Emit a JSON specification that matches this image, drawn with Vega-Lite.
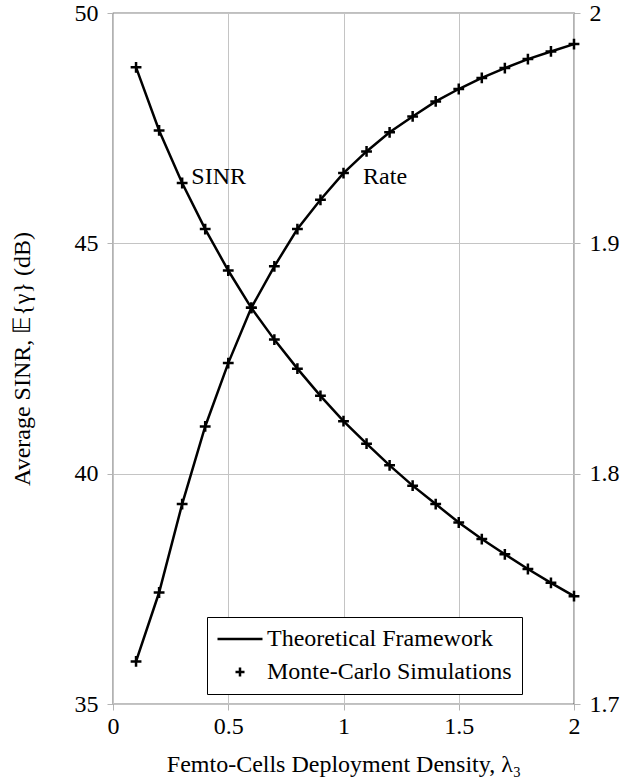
{
  "$schema": "https://vega.github.io/schema/vega-lite/v6.json",
  "width": 461,
  "height": 691,
  "autosize": {"type": "none"},
  "padding": {"left": 113, "top": 13, "right": 49, "bottom": 77},
  "background": "white",
  "config": {
    "font": "Times New Roman, Times, Liberation Serif, serif",
    "view": {"stroke": "black", "strokeWidth": 1.2},
    "axis": {
      "domain": false,
      "labelFont": "Times New Roman, Times, Liberation Serif, serif",
      "labelFontSize": 24,
      "labelColor": "black",
      "titleFont": "Times New Roman, Times, Liberation Serif, serif",
      "titleFontSize": 24,
      "titleFontWeight": "normal",
      "titleColor": "black",
      "gridColor": "#c4c4c4",
      "gridWidth": 1,
      "tickColor": "#b4b4b4",
      "tickSize": 6,
      "labelFlush": false,
      "labelOverlap": false
    },
    "legend": {
      "labelFont": "Times New Roman, Times, Liberation Serif, serif",
      "labelFontSize": 24,
      "labelColor": "black",
      "labelLimit": 0
    },
    "text": {"font": "Times New Roman, Times, Liberation Serif, serif"}
  },
  "data": {
    "values": [
      {"lambda": 0.1, "sinr": 48.82, "rate": 1.7185},
      {"lambda": 0.2, "sinr": 47.45, "rate": 1.7484},
      {"lambda": 0.3, "sinr": 46.31, "rate": 1.7868},
      {"lambda": 0.4, "sinr": 45.31, "rate": 1.8205},
      {"lambda": 0.5, "sinr": 44.41, "rate": 1.848},
      {"lambda": 0.6, "sinr": 43.6, "rate": 1.872},
      {"lambda": 0.7, "sinr": 42.91, "rate": 1.89},
      {"lambda": 0.8, "sinr": 42.28, "rate": 1.9062},
      {"lambda": 0.9, "sinr": 41.69, "rate": 1.9189},
      {"lambda": 1.0, "sinr": 41.14, "rate": 1.9305},
      {"lambda": 1.1, "sinr": 40.65, "rate": 1.9399},
      {"lambda": 1.2, "sinr": 40.18, "rate": 1.9482},
      {"lambda": 1.3, "sinr": 39.74, "rate": 1.9551},
      {"lambda": 1.4, "sinr": 39.34, "rate": 1.9616},
      {"lambda": 1.5, "sinr": 38.94, "rate": 1.967},
      {"lambda": 1.6, "sinr": 38.58, "rate": 1.9718},
      {"lambda": 1.7, "sinr": 38.25, "rate": 1.9761},
      {"lambda": 1.8, "sinr": 37.93, "rate": 1.98},
      {"lambda": 1.9, "sinr": 37.63, "rate": 1.9833},
      {"lambda": 2.0, "sinr": 37.34, "rate": 1.9865}
    ]
  },
  "encoding": {
    "x": {
      "field": "lambda",
      "type": "quantitative",
      "scale": {"domain": [0, 2], "nice": false, "zero": false},
      "axis": {
        "values": [0, 0.5, 1, 1.5, 2],
        "format": "~g",
        "grid": true,
        "labelPadding": 4,
        "title": "Femto-Cells Deployment Density, λ₃",
        "titleX": 230.5,
        "titleY": 60,
        "titleBaseline": "middle",
        "titleAlign": "center"
      }
    }
  },
  "layer": [
    {
      "encoding": {
        "y": {
          "field": "sinr",
          "type": "quantitative",
          "scale": {"domain": [35, 50], "nice": false, "zero": false},
          "axis": {
            "orient": "left",
            "values": [35, 40, 45, 50],
            "grid": true,
            "labelPadding": 9,
            "title": "Average SINR, 𝔼{γ} (dB)",
            "titleAngle": -90,
            "titleX": -91,
            "titleY": 345.5,
            "titleAlign": "center",
            "titleBaseline": "middle"
          }
        }
      },
      "layer": [
        {
          "mark": {"type": "line", "color": "black", "strokeWidth": 2.5}
        },
        {
          "mark": {
            "type": "point",
            "filled": false,
            "stroke": "black",
            "strokeWidth": 2.5,
            "size": 100,
            "opacity": 1,
            "shape": "M-1.08,0L1.08,0M0,-1.08L0,1.08"
          }
        },
        {
          "description": "Legend carrier: theory line and simulation cross as shape symbols",
          "mark": {
            "type": "point",
            "filled": false,
            "stroke": "black",
            "strokeWidth": 2.5,
            "size": 100,
            "opacity": 0
          },
          "encoding": {
            "shape": {
              "datum": "Monte-Carlo Simulations",
              "type": "nominal",
              "scale": {
                "domain": ["Theoretical Framework", "Monte-Carlo Simulations"],
                "range": ["M-2.3,0L6.7,0", "M1.3,0L3.1,0M2.2,-0.9L2.2,0.9"]
              },
              "legend": {
                "title": null,
                "orient": "none",
                "legendX": 94,
                "legendY": 604,
                "direction": "vertical",
                "strokeColor": "black",
                "fillColor": "white",
                "padding": 10,
                "rowPadding": 9,
                "labelOffset": 26,
                "symbolSize": 100,
                "symbolStrokeColor": "black",
                "symbolStrokeWidth": 2.5,
                "symbolFillColor": "transparent",
                "symbolOpacity": 1
              }
            }
          }
        },
        {
          "data": {
            "values": [
              {"label": "SINR", "lx": 0.34, "ly": 46.45},
              {"label": "Rate", "lx": 1.085, "ly": 46.45}
            ]
          },
          "mark": {
            "type": "text",
            "align": "left",
            "baseline": "middle",
            "fontSize": 24,
            "color": "black"
          },
          "encoding": {
            "x": {"field": "lx", "type": "quantitative"},
            "y": {"field": "ly", "type": "quantitative"},
            "text": {"field": "label"}
          }
        }
      ]
    },
    {
      "encoding": {
        "y": {
          "field": "rate",
          "type": "quantitative",
          "scale": {"domain": [1.7, 2], "nice": false, "zero": false},
          "axis": {
            "orient": "right",
            "values": [1.7, 1.8, 1.9, 2],
            "format": "~g",
            "grid": false,
            "labelPadding": 9,
            "title": null
          }
        }
      },
      "layer": [
        {
          "mark": {"type": "line", "color": "black", "strokeWidth": 2.5}
        },
        {
          "mark": {
            "type": "point",
            "filled": false,
            "stroke": "black",
            "strokeWidth": 2.5,
            "size": 100,
            "opacity": 1,
            "shape": "M-1.08,0L1.08,0M0,-1.08L0,1.08"
          }
        }
      ]
    }
  ],
  "resolve": {"scale": {"y": "independent"}}
}
